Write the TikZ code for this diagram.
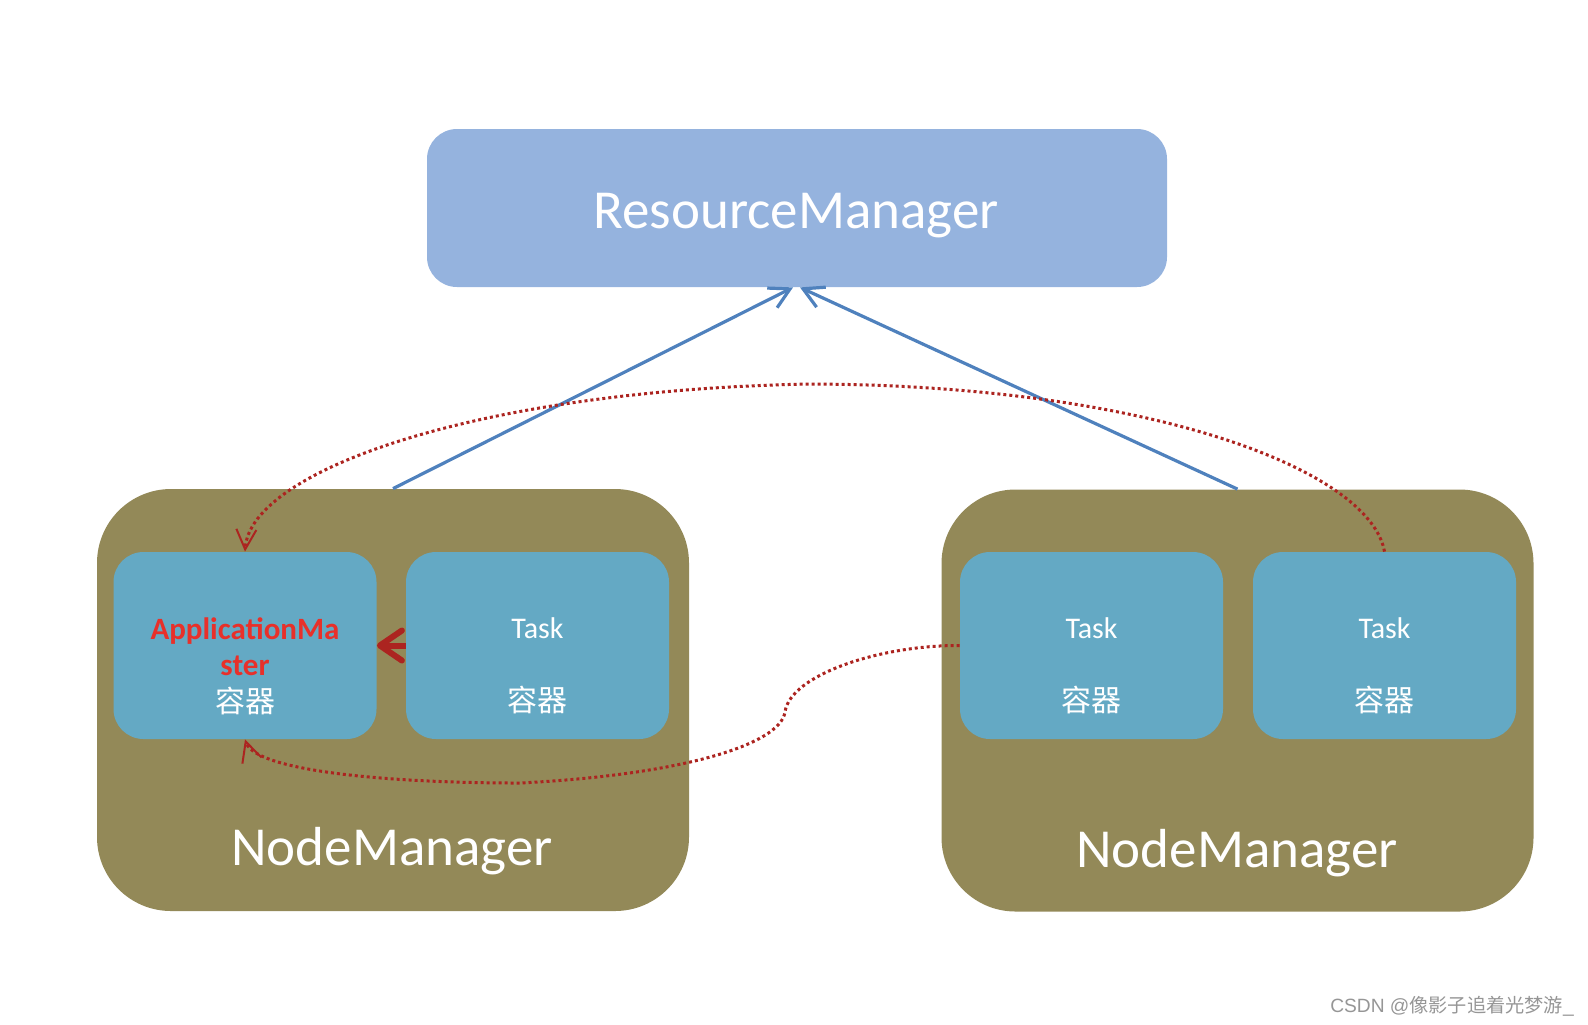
\documentclass[tikz,border=0pt]{standalone}
\usepackage{fontspec}
\setmainfont{Carlito}
\newfontfamily\cjk{Noto Sans CJK SC}
\newfontfamily\wmfont{Liberation Sans}
\usetikzlibrary{arrows.meta}
\definecolor{rmfill}{RGB}{149,179,222}
\definecolor{nmfill}{RGB}{147,137,88}
\definecolor{ctfill}{RGB}{100,169,196}
\definecolor{bline}{RGB}{79,129,189}
\definecolor{rline}{RGB}{172,36,32}
\definecolor{amred}{RGB}{232,48,42}
\definecolor{wmgray}{RGB}{150,150,150}
\begin{document}
\begin{tikzpicture}[x=0.5pt,y=-0.5pt,
  rmbox/.style={fill=rmfill, rounded corners=15pt, minimum width=370pt, minimum height=79pt, inner sep=0pt},
  nmbox/.style={fill=nmfill, rounded corners=37pt, minimum width=296pt, minimum height=211pt, inner sep=0pt},
  ctbox/.style={fill=ctfill, rounded corners=15pt, minimum width=131.5pt, minimum height=93.5pt, inner sep=0pt},
  bigtext/.style={text=white, font=\fontsize{27.5}{33}\selectfont, inner sep=0pt},
  smtext/.style={text=white, font=\fontsize{15}{18.25}\selectfont, align=center, inner sep=0pt},
  bluearrow/.style={draw=bline, line width=1.6pt, -{Straight Barb[length=10pt,width=11pt]}},
  reddot/.style={draw=rline, line width=1.5pt, dash pattern=on 1.5pt off 1.5pt, -{Straight Barb[length=10pt,width=10pt,line width=1pt]}},
  thickred/.style={draw=rline, line width=3pt, -{Straight Barb[length=11pt,width=15pt,round]}}
]
\useasboundingbox (0,0) rectangle (1588,1024);

\node[rmbox] (rm) at (797,208) {};
\node[bigtext] (rmt) at (796,216) {ResourceManager};

\node[nmbox] (nml) at (393,700) {};
\node[nmbox] (nmr) at (1237.5,700.5) {};
\node[bigtext] (nmlt) at (392,851) {NodeManager};
\node[bigtext] (nmrt) at (1237,853) {NodeManager};

\node[ctbox] (am) at (245,645.5) {};
\node[ctbox] (t1) at (537.5,645.5) {};
\node[ctbox] (t2) at (1091.5,645.5) {};
\node[ctbox] (t3) at (1384.5,645.5) {};

\node[smtext] (amt) at (245,666) {\textcolor{amred}{\fontsize{15.5}{18.25}\selectfont\bfseries ApplicationMa}\\\textcolor{amred}{\fontsize{15.5}{18.25}\selectfont\bfseries ster}\\{\cjk 容器}};
\node[smtext] (t1t) at (537.5,666) {Task\\\strut\\{\cjk 容器}};
\node[smtext] (t2t) at (1091.5,666) {Task\\\strut\\{\cjk 容器}};
\node[smtext] (t3t) at (1384.5,666) {Task\\\strut\\{\cjk 容器}};

\draw[bluearrow] (nml.north) -- ([xshift=-2pt]rm.south);
\draw[bluearrow] (nmr.north) -- ([xshift=1.5pt]rm.south);

\draw[reddot] (t3.north) .. controls (1370,470) and (1150,385) .. (810,384)
  .. controls (480,390) and (250,470) .. (am.north);
\draw[reddot] (t2.west) .. controls (880,645) and (790,675) .. (785,712)
  .. controls (780,745) and (680,775) .. (520,783)
  .. controls (380,783) and (255,770) .. (am.south);
\draw[thickred] (t1.west) -- (am.east);

\node[text=wmgray, font=\fontsize{9.6}{12}\selectfont, inner sep=0pt] (wm) at (1452,1006) {\wmfont CSDN @{\cjk 像影子追着光梦游}\_};
\end{tikzpicture}
\end{document}
